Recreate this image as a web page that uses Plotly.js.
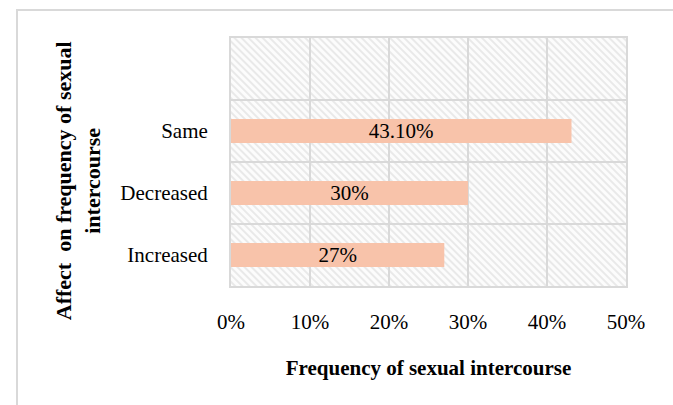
<!DOCTYPE html>
<html>
<head>
<meta charset="utf-8">
<script src="https://cdn.plot.ly/plotly-3.0.1.min.js"></script>
<style>
html,body{margin:0;padding:0;background:#fff;}
#frame{position:absolute;left:16px;top:9px;width:700px;height:420px;border-top:2px solid #d9d9d9;border-left:2px solid #d9d9d9;pointer-events:none;}
#chart{position:absolute;left:0;top:0;width:673px;height:405px;}
</style>
</head>
<body>
<div id="chart"></div>
<div id="frame"></div>
<script>
// Data
var categories = ["Increased", "Decreased", "Same"];
var values = [27, 30, 43.1];
var labels = ["27%", "30%", "43.10%"];
var xTickVals = [0, 10, 20, 30, 40, 50];
var xTickText = ["0%", "10%", "20%", "30%", "40%", "50%"];
var slotCount = 4; // top slot left empty as in the original

var yPos = categories.map(function (c, i) { return i; });
var boundaries = [];
for (var b = 0; b < slotCount - 1; b++) boundaries.push(b + 0.5);

var FONT = "Liberation Serif, Times New Roman, serif";
var GRID = "#d9d9d9";

var trace = {
  type: "bar",
  orientation: "h",
  x: values,
  y: yPos,
  text: labels,
  textposition: "inside",
  insidetextanchor: "middle",
  constraintext: "none",
  textfont: {family: FONT, size: 21, color: "#000"},
  marker: {color: "#F8C3AA"},
  width: 0.39,
  hoverinfo: "skip"
};

var layout = {
  width: 673,
  height: 405,
  margin: {l: 231, r: 47, t: 38, b: 119},
  paper_bgcolor: "rgba(0,0,0,0)",
  plot_bgcolor: "#f3f3f3",
  showlegend: false,
  font: {family: FONT, size: 21, color: "#000"},
  xaxis: {
    range: [0, 50],
    tickvals: xTickVals,
    ticktext: xTickText,
    showgrid: true,
    gridcolor: GRID,
    gridwidth: 2,
    zeroline: false,
    showline: true,
    linecolor: GRID,
    linewidth: 2,
    mirror: true,
    ticks: "",
    ticklabelstandoff: 16,
    tickfont: {family: FONT, size: 21, color: "#000"},
    title: {
      text: "<b>Frequency of sexual intercourse</b>",
      font: {family: FONT, size: 21, color: "#000"},
      standoff: 27
    }
  },
  yaxis: {
    range: [-0.5, slotCount - 0.5],
    tickvals: yPos,
    ticktext: categories,
    showgrid: false,
    zeroline: false,
    showline: true,
    linecolor: GRID,
    linewidth: 2,
    mirror: true,
    ticks: "",
    ticklabelstandoff: 17,
    tickfont: {family: FONT, size: 21, color: "#000"},
    minor: {tickvals: boundaries, showgrid: true, gridcolor: GRID, gridwidth: 2, ticks: ""}
  },
  annotations: [{
    xref: "paper", yref: "paper",
    x: -0.387, y: 0.423,
    xanchor: "center", yanchor: "middle",
    textangle: -90,
    showarrow: false,
    text: "<b>Affect  on frequency of sexual<br>intercourse</b>",
    font: {family: FONT, size: 22, color: "#000"}
  }]
};

Plotly.newPlot("chart", [trace], layout, {displayModeBar: false, staticPlot: true}).then(function (gd) {
  try {
    var svg = gd.querySelector("svg.main-svg");
    var ns = "http://www.w3.org/2000/svg";
    var defs = svg.querySelector("defs") || svg.insertBefore(document.createElementNS(ns, "defs"), svg.firstChild);
    var pat = document.createElementNS(ns, "pattern");
    pat.setAttribute("id", "hatchbg");
    pat.setAttribute("patternUnits", "userSpaceOnUse");
    pat.setAttribute("width", "5");
    pat.setAttribute("height", "5");
    pat.setAttribute("patternTransform", "rotate(45)");
    var r0 = document.createElementNS(ns, "rect");
    r0.setAttribute("width", "5"); r0.setAttribute("height", "5"); r0.setAttribute("fill", "#fcfcfc");
    var r1 = document.createElementNS(ns, "rect");
    r1.setAttribute("width", "5"); r1.setAttribute("height", "2"); r1.setAttribute("fill", "#e9e9e9");
    pat.appendChild(r0); pat.appendChild(r1);
    defs.appendChild(pat);
    var bgs = gd.querySelectorAll(".bglayer rect.bg, rect.bg");
    bgs.forEach(function (el) { el.style.fill = "url(#hatchbg)"; });
  } catch (e) {}
});
</script>
</body>
</html>
